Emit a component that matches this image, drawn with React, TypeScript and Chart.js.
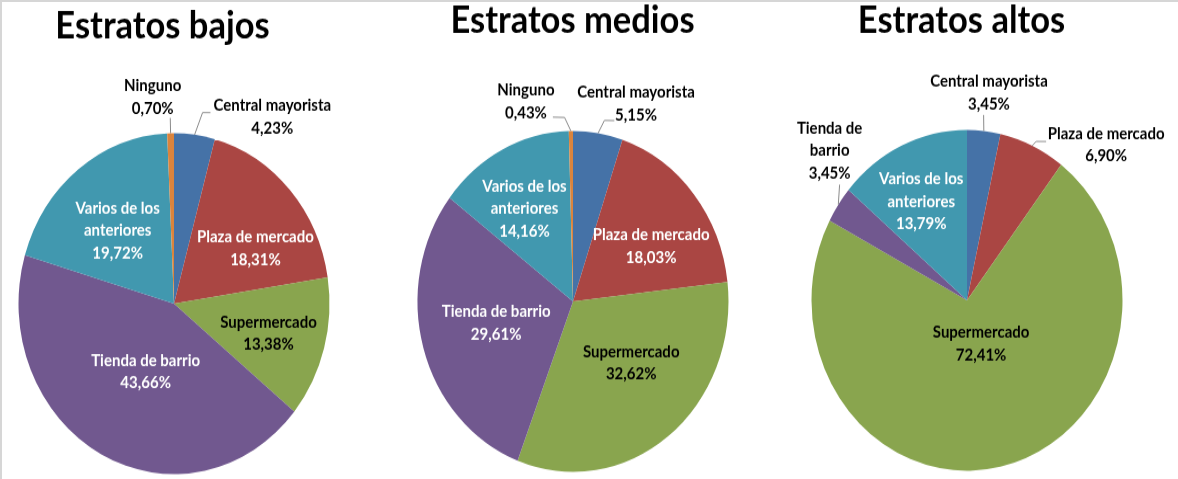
import { useEffect, useRef } from "react";
import { Chart, registerables } from "chart.js";

Chart.register(...registerables);

// ---------- data ----------
const categories = [
  "Central mayorista",
  "Plaza de mercado",
  "Supermercado",
  "Tienda de barrio",
  "Varios de los anteriores",
  "Ninguno",
];
const bajosValues = [4.23, 18.31, 13.38, 43.66, 19.72, 0.7];
const mediosValues = [5.15, 18.03, 32.62, 29.61, 14.16, 0.43];
const altosValues = [3.45, 6.9, 72.41, 3.45, 13.79, 0];
const chartTitles = ["Estratos bajos", "Estratos medios", "Estratos altos"];

// ---------- styles ----------
const sliceColors = ["#4572A7", "#AA4643", "#89A54E", "#71588F", "#4198AF", "#DB843D"];
const insideTextColors = ["#000", "#ffffff", "#000", "#ffffff", "#ffffff", "#000"];
const leaderColor = "#8a8a8a";
const FONT = "Lato, 'Open Sans', sans-serif";
const LABEL_SIZE = 15;
const LINE_H = 20.5;
const TITLE_SIZE = 34.5;

const CW = 420; // canvas width
const CH = 437; // canvas drawing height
const SH = 479; // displayed height (vertical stretch)
const RADIUS = 155.5;

type Spec = {
  f: number; // radial factor of label centre
  da: number; // angle offset (deg) from slice mid-angle
  lines?: string[];
  leader?: [number, number][];
} | null;

const varios = ["Varios de los", "anteriores"];

const layoutBajos: Spec[] = [
  { f: 1.264, da: 22.4, leader: [[1.136, 1.7], [1.145, 4.2]] },
  { f: 0.615, da: 10.2 },
  { f: 0.632, da: 0.7 },
  { f: 0.44, da: -3.4 },
  { f: 0.56, da: -2.3, lines: varios },
  { f: 1.219, da: -5.2, leader: [[1.09, 0]] },
];
const layoutMedios: Spec[] = [
  { f: 1.228, da: 10.0, leader: [[1.081, 1.5], [1.094, 4.8]] },
  { f: 0.598, da: 6.2 },
  { f: 0.52, da: -8.2 },
  { f: 0.51, da: 1.5 },
  { f: 0.627, da: -2.8, lines: varios },
  { f: 1.211, da: -13.7, leader: [[1.081, -2.1], [1.089, -6.05]] },
];
const layoutAltos: Spec[] = [
  { f: 1.226, da: 0.4, leader: [[1.093, -0.6]] },
  { f: 1.278, da: 19.6, leader: [[1.033, 0.66], [1.062, 3.8]] },
  { f: 0.27, da: -7.2 },
  { f: 1.246, da: 10.7, lines: ["Tienda de", "barrio"], leader: [[1.064, 5.5]] },
  { f: 0.65, da: -2.1, lines: varios },
  null,
];

const fmt = (v: number) => v.toFixed(2).replace(".", ",") + "%";

function makeLabelPlugin(layout: Spec[], title: string, titleDx: number, titleBase: number) {
  return {
    id: "pieLabels",
    afterDatasetsDraw(chart: any) {
      const { ctx } = chart;
      const meta = chart.getDatasetMeta(0);
      const values = chart.data.datasets[0].data as number[];
      ctx.save();
      meta.data.forEach((el: any, i: number) => {
        const spec = layout[i];
        if (!spec || !values[i]) return;
        const { x, y, startAngle, endAngle, outerRadius } = el.getProps(
          ["x", "y", "startAngle", "endAngle", "outerRadius"],
          true
        );
        const mid = (startAngle + endAngle) / 2;
        const at = (f: number, da: number) => {
          const a = mid + (da * Math.PI) / 180;
          return [x + Math.cos(a) * outerRadius * f, y + Math.sin(a) * outerRadius * f];
        };
        if (spec.leader) {
          ctx.beginPath();
          const [sx, sy] = at(1, 0);
          ctx.moveTo(sx, sy);
          spec.leader.forEach(([f, da]) => {
            const [px, py] = at(f, da);
            ctx.lineTo(px, py);
          });
          ctx.strokeStyle = leaderColor;
          ctx.lineWidth = 1;
          ctx.stroke();
        }
        const [lx, ly] = at(spec.f, spec.da);
        const lines = [...(spec.lines ?? [categories[i]]), fmt(values[i])];
        ctx.fillStyle = spec.f > 1 ? "#000" : insideTextColors[i];
        ctx.font = `bold ${LABEL_SIZE}px ${FONT}`;
        ctx.textAlign = "center";
        ctx.textBaseline = "middle";
        lines.forEach((t, j) => {
          ctx.fillText(t, lx, ly + (j - (lines.length - 1) / 2) * LINE_H);
        });
      });
      const cx = meta.data[0].x;
      ctx.font = `bold ${TITLE_SIZE}px ${FONT}`;
      ctx.fillStyle = "#000";
      ctx.textAlign = "center";
      ctx.textBaseline = "alphabetic";
      ctx.fillText(title, cx + titleDx, titleBase);
      ctx.restore();
    },
  };
}

type PieProps = {
  values: number[];
  layout: Spec[];
  title: string;
  left: number;
  top: number;
  titleDx: number;
  titleBase: number;
};

function PieCanvas({ values, layout, title, left, top, titleDx, titleBase }: PieProps) {
  const ref = useRef<HTMLCanvasElement>(null);
  useEffect(() => {
    const canvas = ref.current!;
    const chart = new Chart(canvas, {
      type: "pie",
      data: {
        labels: categories,
        datasets: [
          {
            data: values,
            backgroundColor: sliceColors,
            borderWidth: 0,
          },
        ],
      },
      options: {
        responsive: false,
        animation: false,
        devicePixelRatio: 1,
        radius: RADIUS,
        layout: {
          padding: { left: 54, right: 54, top, bottom: CH - top - 312 },
        },
        plugins: {
          legend: { display: false },
          tooltip: { enabled: false },
          title: { display: false },
        },
        events: [],
      } as any,
      plugins: [makeLabelPlugin(layout, title, titleDx, titleBase)],
    });
    return () => chart.destroy();
  }, []);
  return (
    <canvas
      ref={ref}
      width={CW}
      height={CH}
      style={{
        position: "absolute",
        left: `${left}px`,
        top: 0,
        width: `${CW}px`,
        height: `${SH}px`,
      }}
    />
  );
}

export default function App() {
  return (
    <div
      style={{
        position: "absolute",
        left: 0,
        top: 0,
        width: "1178px",
        height: "479px",
        background: "#fff",
        overflow: "hidden",
      }}
    >
      <div
        style={{
          position: "absolute",
          left: 0,
          top: 0,
          width: "1178px",
          height: "479px",
          boxSizing: "border-box",
          borderTop: "2px solid #d6d6d6",
          borderLeft: "2px solid #d6d6d6",
        }}
      />
      <PieCanvas values={bajosValues} layout={layoutBajos} title={chartTitles[0]} left={-36} top={121} titleDx={-11.5} titleBase={34.7} />
      <PieCanvas values={mediosValues} layout={layoutMedios} title={chartTitles[1]} left={363} top={119} titleDx={-0.5} titleBase={30.1} />
      <PieCanvas values={altosValues} layout={layoutAltos} title={chartTitles[2]} left={757} top={118} titleDx={-5.5} titleBase={30.1} />
    </div>
  );
}
